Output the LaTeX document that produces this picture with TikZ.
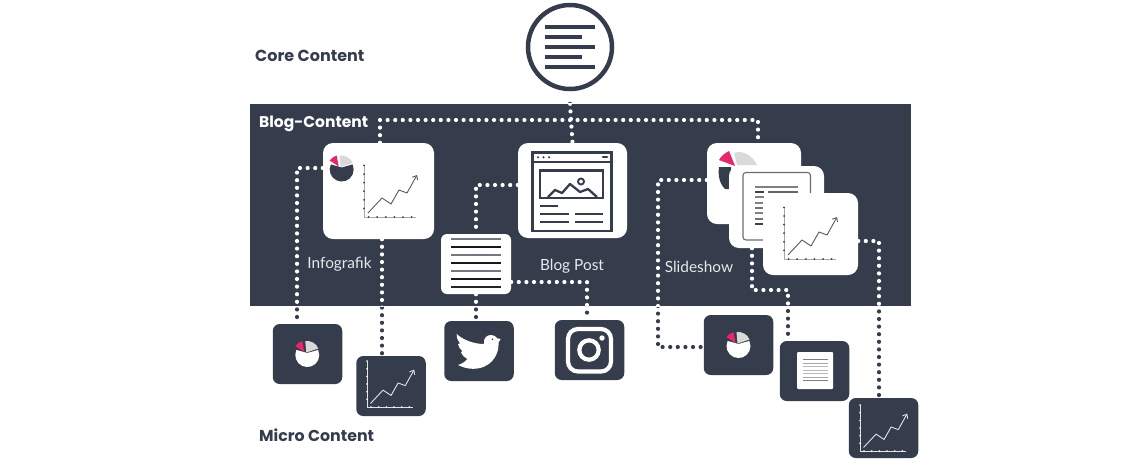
\documentclass[tikz,border=0pt]{standalone}
\usepackage{fontspec}
\setmainfont{Lato}
\newfontfamily\headfont{Poppins}
\usetikzlibrary{arrows.meta}
\definecolor{navy}{HTML}{353D4C}
\definecolor{pinkred}{HTML}{E8266B}
\definecolor{pale}{HTML}{D9D9D9}
\definecolor{axisgrey}{HTML}{A3A7B0}
\pgfdeclarelayer{bandlayer}
\pgfdeclarelayer{connlayer}
\pgfsetlayers{bandlayer,connlayer,main}
\tikzset{
  whitebox/.style={fill=white,rounded corners=10pt,inner sep=0pt,draw=none},
  microbox/.style={fill=navy,rounded corners=7pt,inner sep=0pt,minimum width=69.5pt,minimum height=60pt},
  dotline/.style={line width=4.2pt,line cap=round,dash pattern=on 0pt off 7.6pt},
  heading/.style={font=\headfont\bfseries\fontsize{15.8}{18}\selectfont,text=navy,anchor=west,inner sep=0pt},
  caption/.style={font=\fontsize{15.4}{18}\selectfont,text=white!88!navy,inner sep=0pt},
  bar/.style={line width=#1,draw=navy},
}
% connector: dark outside the band, white inside it
\newcommand{\conn}[1]{%
  \begin{pgfonlayer}{connlayer}
    \draw[dotline,navy] #1;
    \begin{scope}
      \clip (band.north west) rectangle (band.south east);
      \draw[dotline,white] #1;
    \end{scope}
  \end{pgfonlayer}}
% chart icon: origin, scale, line colour, axis colour, dot colour
\newcommand{\charticon}[6]{%
  \begin{scope}[shift={(#1,#2)},scale=#3]
    \draw[#5,line width=0.8pt] (0,-52) -- (0,0) -- (52,0);
    \foreach \k in {1,...,6}{
      \fill[#6] (0,-8.6*\k) circle[radius=1];
      \fill[#6] (8.6*\k-4,0) circle[radius=1];
    }
    \draw[#4,line width=0.9pt,line join=round,-{Straight Barb[length=3.5pt,width=6pt]}]
      (4,-4) -- (18,-19) -- (27,-13) -- (35,-27) -- (43,-24) -- (53,-42);
  \end{scope}}
% pie icon: centre, main colour
\newcommand{\pieicon}[3]{%
  \begin{scope}[shift={(#1,#2)}]
    \fill[#3] (0,-2) -- (-155:12) arc[start angle=-155,end angle=-385,radius=12] -- cycle;
    \fill[pale] (-1,-2.5) -- (-2,-14) .. controls (3,-14.5) and (9,-12) .. (11,-6.5) -- cycle;
    \fill[pinkred] (-3,-3) -- (-12,-9) .. controls (-10,-11.5) and (-8,-13) .. (-5,-14) -- cycle;
  \end{scope}}
\begin{document}
\begin{tikzpicture}[x=1pt,y=-1pt]
\useasboundingbox (0,0) rectangle (1140,475);

\begin{pgfonlayer}{bandlayer}
  \node[fill=navy,inner sep=0pt,minimum width=661pt,minimum height=202pt] (band) at (580.5,205) {};
\end{pgfonlayer}

% labels
\node[heading,font=\headfont\bfseries\fontsize{16}{18}\selectfont] (lcore) at (255,55.5) {Core Content};
\node[heading,text=white,font=\headfont\bfseries\fontsize{15.5}{18}\selectfont] (lblog) at (259,123.5) {Blog-Content};
\node[heading] (lmicro) at (259,435.5) {Micro Content};
\node[caption] (linfo) at (339.5,264.5) {Infografik};
\node[caption] (lpost) at (572,266.5) {Blog Post};
\node[caption] (lslide) at (699,266.5) {Slideshow};

% core content
\node[circle,draw=navy,line width=4.5pt,fill=white,minimum size=84pt,inner sep=0pt] (core) at (570,47) {};
\foreach \yy/\xx in {27/595,37/582,47/595,57/582,67/595}
  \draw[bar=4.6pt] (545,\yy) -- (\xx,\yy);

% infographic
\node[whitebox,minimum width=111pt,minimum height=96pt] (info) at (378.5,191) {};
\pieicon{341.7}{169.5}{navy}
\charticon{364}{217}{1}{navy!85!white}{axisgrey}{navy}

% blog post
\node[whitebox,minimum width=109pt,minimum height=95pt] (post) at (572.5,190.5) {};
\draw[bar=2.6pt] (532.5,152.5) rectangle (611.5,231);
\draw[bar=1.8pt] (532.5,162) -- (611.5,162);
\foreach \xx in {538,543.5,549} \fill[navy] (\xx,157.3) circle[radius=1.2];
\draw[bar=2.2pt,line cap=round] (603,157.3) -- (607,157.3);
\draw[bar=2.6pt] (540,170.5) rectangle (603,198);
\draw[bar=2.3pt,line join=round] (548,197) -- (555,190) -- (562,193) -- (570,184) -- (580,192) -- (588,189) -- (597,197);
\draw[bar=1.9pt] (581,181.5) circle[radius=3];
\draw[bar=2.2pt] (540,206) -- (558,206) (540,214) -- (569,214) (575,214) -- (603,214) (540,222) -- (569,222) (575,222) -- (603,222);

% text sheet
\node[whitebox,rounded corners=6pt,minimum width=70pt,minimum height=60pt] (sheet) at (476,264) {};
\foreach \yy/\cc in {239/navy!70!white,247/black!90,255/navy!70!white,263/black!90,271/navy!70!white,279/black!90,287/black!85}
  \draw[\cc,line width=1.8pt] (451,\yy) -- (501,\yy);

% slideshow
\node[whitebox,minimum width=94pt,minimum height=81pt] (slidea) at (754,183.5) {};
\fill[pale] (737,165) -- (734,153) .. controls (743,150) and (752,155) .. (757,165) -- cycle;
\fill[pinkred] (735,166) -- (719,160) .. controls (721,156) and (725,153) .. (729,151) -- cycle;
\fill[navy] (731,167) -- (719,167) .. controls (718,175) and (719,183) .. (725,189) -- (731,189) -- cycle;
\node[whitebox,minimum width=95pt,minimum height=82pt] (slideb) at (776.5,207) {};
\draw[navy!75!white,line width=1.1pt,rounded corners=3pt] (743,172.5) rectangle (810.5,240);
\draw[black!50,line width=1.3pt] (755,187) -- (798,187);
\draw[black!60,line width=1.1pt] (768,192) -- (798,192);
\foreach \yy/\cc in {192/black!75,197/black!50,203/black!50,208/black!55,213/black!50,219/black!55,224/black!75}
  \draw[\cc,line width=1.1pt] (755,\yy) -- (764,\yy);
\node[whitebox,minimum width=95pt,minimum height=82pt] (slidec) at (810.5,234) {};
\charticon{784}{259}{1}{navy!85!white}{axisgrey}{navy}

% micro content
\node[microbox] (mpiea) at (307.5,354) {};
\pieicon{307.3}{355}{white}
\node[microbox] (mchart) at (391,386) {};
\charticon{367}{407}{0.89}{white!85!navy}{white!85!navy}{white}
\node[microbox] (mtw) at (479,351) {};
\fill[white] (500.7,339) -- (497.3,338.3) .. controls (495,335.5) and (492.5,335) .. (490.7,335)
  .. controls (487,335) and (484,338) .. (484,341.5) -- (484,344)
  .. controls (474,344) and (463,340) .. (456.7,334)
  .. controls (456.5,338) and (458,341) .. (460,343.5)
  .. controls (459,343.8) and (458.5,344) .. (458,344)
  .. controls (459,347.5) and (460.5,350) .. (462.3,351)
  .. controls (462,351.5) and (461.5,352) .. (461,352.2)
  .. controls (462.5,355.5) and (465,358) .. (467.3,359)
  .. controls (465,362) and (461.5,364) .. (458,365)
  .. controls (463,367.5) and (468,368.8) .. (473,368.8)
  .. controls (490,368.8) and (498.5,356) .. (498.5,345)
  -- (498.5,342.5) -- (500.7,339) -- cycle;
\fill[navy] (492.5,339.2) circle[radius=0.9];
\node[microbox] (mig) at (589.5,350) {};
\draw[white,line width=4.2pt,rounded corners=10pt] (568,329) rectangle (611,371.5);
\draw[white,line width=4.2pt] (589,350) circle[radius=9.7];
\fill[white] (602,338) circle[radius=2.7];
\node[microbox] (mpieb) at (738.5,345) {};
\pieicon{738.5}{346}{white}
\node[microbox] (mdoc) at (814.5,371) {};
\fill[white,rounded corners=1pt] (797,352) rectangle (833,389);
\foreach \k/\cc in {0/black!50,1/black!35,2/black!28,3/black!28,4/black!28,5/black!35,6/black!50}
  \draw[\cc,line width=0.9pt] (803,359.5+3.5*\k) -- (828,359.5+3.5*\k);
\node[microbox] (mchartb) at (883.5,428) {};
\charticon{860}{451}{0.89}{white!85!navy}{white!85!navy}{white}

% connectors
\conn{(core.south |- band.north) -- (post.north)}
\conn{(info.north -| 380,0) |- (758,120) -- (slidea.north -| 758,0)}
\conn{(info.west |- 0,168) -| (mpiea.north -| 297,0)}
\conn{(info.south -| 382,0) -- (mchart.north -| 382,0)}
\conn{(post.west |- 0,185) -| (sheet.north)}
\conn{(sheet.south) -- (mtw.north -| sheet.south)}
\conn{(sheet.east |- 0,282) -| (mig.north -| 587,0)}
\conn{(slidea.west |- 0,180) -| (658,347) -- (mpieb.west |- 0,347)}
\conn{(slideb.south -| 752,0) |- (788,290) -- (mdoc.north -| 788,0)}
\conn{(slidec.east |- 0,241) -| (mchartb.north -| 879,0)}
\end{tikzpicture}
\end{document}
